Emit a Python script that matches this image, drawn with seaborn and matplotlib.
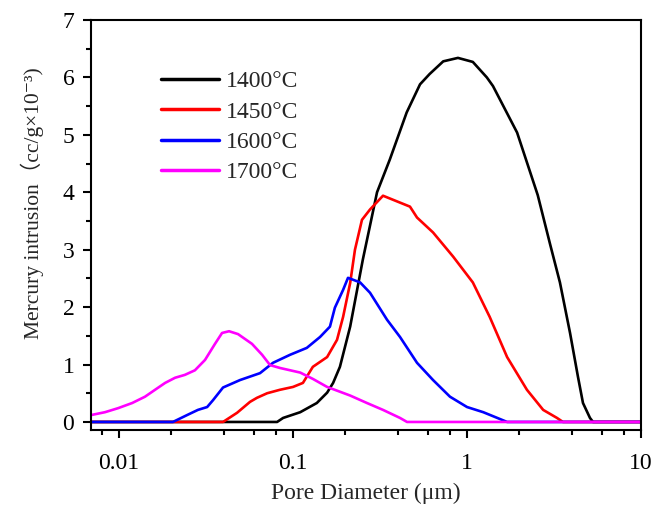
import numpy as np
import pandas as pd
import matplotlib
matplotlib.use("Agg")
import matplotlib.pyplot as plt
import seaborn as sns
from matplotlib.ticker import LogLocator, MultipleLocator, FixedLocator, FixedFormatter

labels = ["1400°C", "1450°C", "1600°C", "1700°C"]
colors = ["#000000", "#FF0000", "#0000FF", "#FF00FF"]

x_1400 = [0.0069, 0.081, 0.0877, 0.110, 0.137, 0.157, 0.170, 0.186, 0.213, 0.252, 0.304, 0.36,
          0.45, 0.537, 0.61, 0.73, 0.887, 1.08, 1.30, 1.41, 1.94, 2.55, 3.0, 3.42, 3.91, 4.34,
          4.64, 5.09, 5.3, 10]
y_1400 = [0, 0, 0.07, 0.17, 0.33, 0.51, 0.68, 0.96, 1.66, 2.83, 4.0, 4.57,
          5.39, 5.88, 6.06, 6.28, 6.34, 6.27, 6.0, 5.85, 5.04, 3.95, 3.1, 2.43, 1.55, 0.79,
          0.33, 0.07, 0, 0]

x_1450 = [0.0069, 0.0396, 0.0477, 0.0566, 0.062, 0.071, 0.084, 0.100, 0.114, 0.130, 0.157,
          0.179, 0.194, 0.213, 0.227, 0.249, 0.277, 0.329, 0.412, 0.470, 0.516, 0.638, 0.832,
          1.08, 1.35, 1.70, 2.21, 2.74, 3.29, 3.56, 10]
y_1450 = [0, 0, 0.16, 0.35, 0.42, 0.5, 0.56, 0.61, 0.68, 0.96, 1.13,
          1.43, 1.83, 2.42, 3.0, 3.52, 3.7, 3.94, 3.82, 3.75, 3.56, 3.3, 2.88,
          2.43, 1.83, 1.13, 0.56, 0.21, 0.07, 0, 0]

x_1600 = [0.0069, 0.0204, 0.0246, 0.0284, 0.0321, 0.0347, 0.0396, 0.0496, 0.0646, 0.0767,
          0.0962, 0.120, 0.143, 0.163, 0.174, 0.194, 0.207, 0.243, 0.277, 0.347, 0.412, 0.516,
          0.638, 0.798, 1.0, 1.24, 1.55, 1.70, 10]
y_1600 = [0, 0, 0.12, 0.21, 0.26, 0.38, 0.6, 0.73, 0.85, 1.03,
          1.17, 1.29, 1.48, 1.66, 1.99, 2.3, 2.51, 2.43, 2.25, 1.78, 1.48, 1.03,
          0.73, 0.44, 0.26, 0.17, 0.05, 0, 0]

x_1700 = [0.0069, 0.0083, 0.00987, 0.0119, 0.0141, 0.0161, 0.0184, 0.0210, 0.0239, 0.0273,
          0.0312, 0.0356, 0.0391, 0.0429, 0.0483, 0.0581, 0.0664, 0.0738, 0.0842, 0.110,
          0.130, 0.157, 0.213, 0.266, 0.329, 0.412, 0.452, 10]
y_1700 = [0.12, 0.17, 0.24, 0.33, 0.44, 0.56, 0.68, 0.77, 0.82, 0.9,
          1.08, 1.36, 1.55, 1.58, 1.53, 1.36, 1.17, 0.99, 0.94, 0.86,
          0.75, 0.61, 0.46, 0.33, 0.21, 0.07, 0, 0]

x_ticks = [0.01, 0.1, 1, 10]
x_ticklabels = ["0.01", "0.1", "1", "10"]
y_ticks = [0, 1, 2, 3, 4, 5, 6, 7]

frames = []
for lab, xs, ys in zip(labels, [x_1400, x_1450, x_1600, x_1700], [y_1400, y_1450, y_1600, y_1700]):
    frames.append(pd.DataFrame({"d": xs, "v": ys, "T": lab}))
df = pd.concat(frames, ignore_index=True)

sns.set_style("ticks")
plt.rcParams["font.family"] = ["Liberation Serif", "Noto Sans CJK SC", "DejaVu Serif"]

fig = plt.figure(figsize=(6.65, 5.08), dpi=100)
ax = fig.add_axes([91 / 665, 1 - 430 / 508, 550 / 665, 410 / 508])

sns.lineplot(data=df, x="d", y="v", hue="T", hue_order=labels,
             palette=dict(zip(labels, colors)), estimator=None, sort=False,
             linewidth=1.9, ax=ax)

ax.set_xscale("log")
ax.set_xlim(0.0069, 10)
ax.set_ylim(-0.14, 7)
ax.xaxis.set_major_locator(FixedLocator(x_ticks))
ax.xaxis.set_major_formatter(FixedFormatter(x_ticklabels))
ax.xaxis.set_minor_locator(LogLocator(base=10, subs=[2, 4, 6, 8]))
ax.xaxis.set_minor_formatter(FixedFormatter([]))
ax.yaxis.set_major_locator(FixedLocator(y_ticks))
ax.yaxis.set_minor_locator(MultipleLocator(0.5))

for s in ax.spines.values():
    s.set_linewidth(1.5)
    s.set_color("black")
ax.tick_params(which="major", direction="out", length=6, width=1.5, labelsize=17,
               colors="black")
ax.tick_params(axis="y", which="major", pad=6)
ax.tick_params(axis="x", which="major", pad=10.5)
ax.tick_params(which="minor", direction="out", length=3.5, width=1.5, colors="black")

ax.set_xlabel("Pore Diameter (μm)", fontsize=17, labelpad=6.5)
ax.set_ylabel("Mercury intrusion（cc/g×10⁻³)", fontsize=15.5)
ax.yaxis.set_label_coords(-0.085, 0.554)

leg = ax.legend(loc="upper left", bbox_to_anchor=(0.11, 0.899), frameon=False, fontsize=17,
                handlelength=2.46, handletextpad=0.3, labelspacing=0.37, borderaxespad=0)
for line in leg.get_lines():
    line.set_linewidth(2.5)

fig.savefig("out.png", dpi=100)
